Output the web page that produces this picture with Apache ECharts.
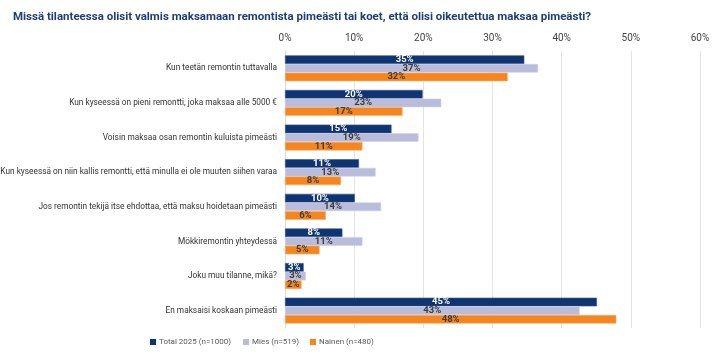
<!DOCTYPE html>
<html><head><meta charset="utf-8">
<script src="https://cdn.jsdelivr.net/npm/echarts@6/dist/echarts.min.js"></script>
<style>html,body{margin:0;padding:0;background:#fff}#c{width:720px;height:355px}</style>
</head><body><div id="c"></div>
<script>
const categories = [
  "Kun teetän remontin tuttavalla",
  "Kun kyseessä on pieni remontti, joka maksaa alle 5000 €",
  "Voisin maksaa osan remontin kuluista pimeästi",
  "Kun kyseessä on niin kallis remontti, että minulla ei ole muuten siihen varaa",
  "Jos remontin tekijä itse ehdottaa, että maksu hoidetaan pimeästi",
  "Mökkiremontin yhteydessä",
  "Joku muu tilanne, mikä?",
  "En maksaisi koskaan pimeästi"
];
const total2025 = [34.6, 19.9, 15.4, 10.7, 10.1, 8.3, 2.7, 45.1];
const mies = [36.6, 22.6, 19.3, 13.1, 13.9, 11.2, 3.0, 42.6];
const nainen = [32.2, 17.0, 11.2, 8.1, 5.9, 5.0, 2.4, 47.9];
const seriesNames = ["Total 2025 (n=1000)", "Mies (n=519)", "Nainen (n=480)"];
const xTicks = [0, 10, 20, 30, 40, 50, 60];

const colors = ["#0e3472", "#b9bcda", "#f5861f"];
const borders = ["#3a5a8f", "#d0d2e6", "#f8b070"];
const labelColors = ["#ffffff", "#3c3c3c", "#3c3c3c"];
const legendLeft = [150, 243, 310];
const chart = echarts.init(document.getElementById('c'));
function mk(i, data) {
  return {
    name: seriesNames[i], type: 'bar', data: data,
    barGap: '0%', barCategoryGap: '25%',
    itemStyle: { color: colors[i], borderColor: borders[i], borderWidth: 0.6 },
    label: { show: true, position: 'inside', color: labelColors[i], fontWeight: 'bold',
      fontSize: 9.5, fontFamily: 'Roboto', formatter: p => Math.round(p.value) + '%' }
  };
}
chart.setOption({
  animation: false,
  title: { text: "Missä tilanteessa olisit valmis maksamaan remontista pimeästi tai koet, että olisi oikeutettua maksaa pimeästi?",
    left: 8, top: 6, textStyle: { fontSize: 11.5, fontWeight: 'bold', color: '#1d3f78', fontFamily: 'Roboto' } },
  legend: seriesNames.map((n, i) => ({
    data: [n], top: 338, left: legendLeft[i], itemWidth: 6, itemHeight: 6, icon: 'rect', padding: 0,
    itemStyle: { borderWidth: 0 },
    textStyle: { fontSize: 8, color: '#595959', fontFamily: 'Roboto', padding: [0, 0, 0, -2] }
  })),
  grid: { left: 285, right: 20, top: 51, height: 277, containLabel: false, outerBoundsMode: 'none' },
  xAxis: { type: 'value', position: 'top', min: 0, max: 60, interval: 10,
    axisLabel: { formatter: v => v + '%', fontSize: 10, color: '#444', fontFamily: 'Roboto', margin: 8 },
    splitLine: { lineStyle: { color: '#e3e3e3' } }, axisLine: { show: false }, axisTick: { show: false } },
  yAxis: { type: 'category', data: categories, inverse: true,
    axisLabel: { fontSize: 8.3, color: '#333', fontFamily: 'Roboto', margin: 8 },
    axisLine: { lineStyle: { color: '#dcdcdc' } }, axisTick: { show: false } },
  series: [mk(0, total2025), mk(1, mies), mk(2, nainen)]
});
</script></body></html>
